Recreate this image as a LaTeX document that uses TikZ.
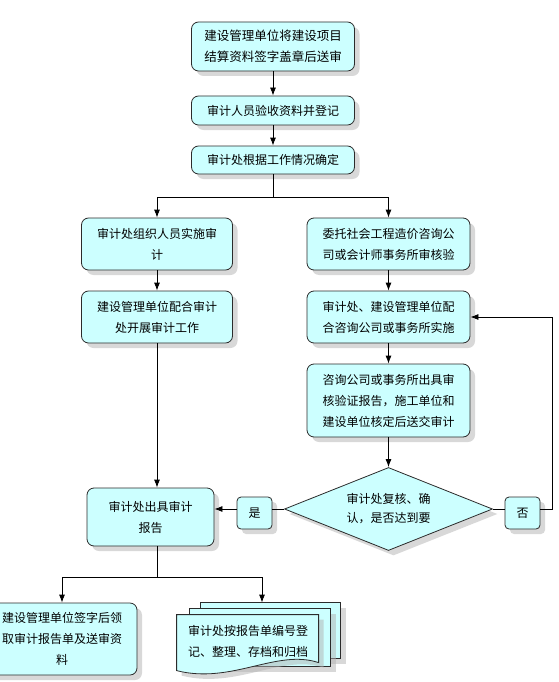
\documentclass[tikz,border=0pt]{standalone}
\usepackage{fontspec}
\setmainfont{Noto Sans CJK SC}
\usetikzlibrary{positioning, shapes.geometric, shadows, arrows.meta, backgrounds}

\definecolor{boxfill}{HTML}{CCFFFF}
\definecolor{edgeclr}{HTML}{2B2B2B}

\tikzset{
  box/.style={draw=edgeclr, fill=boxfill, rounded corners=7pt, line width=0.8pt,
    align=center, inner sep=2pt, font=\fontsize{12}{21}\selectfont,
    drop shadow={shadow xshift=5pt, shadow yshift=-5pt, fill=black!30}},
  decision/.style={box, diamond, sharp corners, aspect=2.5, inner sep=0pt,
    font=\fontsize{12}{19}\selectfont},
  tag/.style={box, rounded corners=4pt},
  page/.style={draw=edgeclr, fill=boxfill, line width=0.8pt,
    drop shadow={shadow xshift=5pt, shadow yshift=-5pt, fill=black!30}}
}

\begin{document}
\begin{tikzpicture}[x=1pt, y=-1pt, on grid, line width=0.8pt, >={Latex[length=8pt,width=6pt]}]
    \useasboundingbox (0,0) rectangle (558,682);

    \node[box, minimum width=163pt, minimum height=49pt, font=\fontsize{12.5}{21}\selectfont] (b1) at (273,46.5) {建设管理单位将建设项目\\结算资料签字盖章后送审};
    \node[box, minimum width=163pt, minimum height=29pt, below=64pt of b1] (b2) {审计人员验收资料并登记};
    \node[box, minimum width=163pt, minimum height=28pt, below=49.5pt of b2] (b3) {审计处根据工作情况确定};
    \node[box, minimum width=151pt, minimum height=52pt, below left=84pt and 116pt of b3] (A) {审计处组织人员实施审\\计};
    \node[box, minimum width=163pt, minimum height=52pt, below right=84pt and 115.5pt of b3] (B) {委托社会工程造价咨询公\\司或会计师事务所审核验};
    \node[box, minimum width=151pt, minimum height=52pt, below=73pt of A] (C) {建设管理单位配合审计\\处开展审计工作};
    \node[box, minimum width=163pt, minimum height=52pt, below=73pt of B] (D) {审计处、建设管理单位配\\合咨询公司或事务所实施};
    \node[box, minimum width=163pt, minimum height=73pt, below=83.5pt of D] (E) {咨询公司或事务所出具审\\核验证报告，施工单位和\\建设单位核定后送交审计};
    \node[decision, minimum width=208pt, minimum height=83pt, below=108.5pt of E] (dec) {审计处复核、确\\认，是否达到要};
    \node[tag, minimum width=35pt, minimum height=32pt, below left=4pt and 134pt of dec] (yes) {是};
    \node[tag, minimum width=35pt, minimum height=32pt, below right=4pt and 134pt of dec] (no) {否};
    \node[box, minimum width=127pt, minimum height=58pt, below left=200pt and 6.5pt of C] (F) {审计处出具审计\\报告};
    \node[box, minimum width=150pt, minimum height=72pt, below left=122pt and 88.5pt of F] (G) {建设管理单位签字后领\\取审计报告单及送审资\\料};
    \node[align=center, inner sep=0pt, minimum width=142pt, minimum height=52pt, font=\fontsize{12}{21}\selectfont, below right=124pt and 97.5pt of F] (H) {审计处按报告单编号登\\记、整理、存档和归档};

    % stacked pages behind H
    \begin{scope}[on background layer, shift={(H.north west)}]
        \draw[page] (24,-12) rectangle (164,44);
        \draw[page] (13,-6) rectangle (154,52);
        \draw[page] (0,0) -- (142,0) -- (142,48) .. controls (100,34) and (55,70) .. (0,56) -- cycle;
    \end{scope}

    \draw[->] (b1) -- (b2);
    \draw[->] (b2) -- (b3);
    \draw (b3.south) -- ++(0,23) coordinate (split);
    \draw[->] (split) -| (A.north);
    \draw[->] (split) -| (B.north);
    \draw[->] (A) -- (C);
    \draw[->] (B) -- (D);
    \draw[->] (D) -- (E);
    \draw[->] (E) -- (dec);
    \draw[->] (C.south) -- (C.south |- F.north);
    \draw (dec.west) -- (dec.west -| yes.east);
    \draw[->] (yes.west |- dec.west) -- (dec.west -| F.east);
    \draw (dec.east) -- (dec.east -| no.west);
    \draw[->] (no.east |- dec.east) -- ++(12,0) |- (D.east);
    \draw (C.south |- F.south) -- ++(0,31) coordinate (fork);
    \coordinate (docin) at ([shift={(14,-12)}]H.north);
    \draw[->] (fork) -| (G.north);
    \draw[->] (fork) -| (docin);
\end{tikzpicture}
\end{document}
